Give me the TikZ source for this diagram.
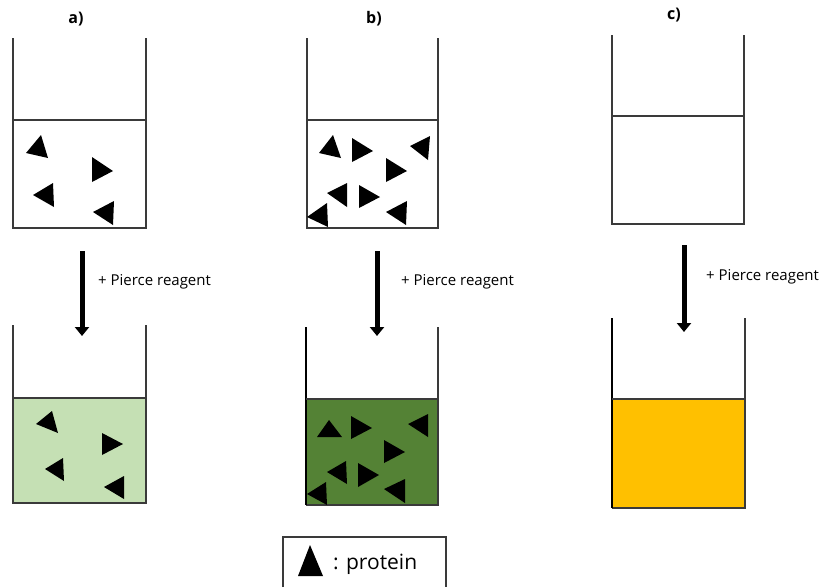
\documentclass[tikz,border=0pt]{standalone}
\usepackage{fontspec}
\setmainfont{Open Sans}
\usetikzlibrary{arrows.meta}
\definecolor{lightgreen}{HTML}{C5E0B4}
\definecolor{darkgreen}{HTML}{548235}
\definecolor{amber}{HTML}{FFC000}
\definecolor{wall}{HTML}{3A3A3A}
\newcommand\protri[3]{\fill[black] (#1)--(#2)--(#3)--cycle;}
\begin{document}
\begin{tikzpicture}[x=1pt,y=-1pt,
  wallline/.style={draw=wall,line width=1.1pt},
  bigarrow/.style={line width=5pt,-{Triangle[width=14pt,length=9pt]}},
  reagent/.style={anchor=west,inner sep=0pt,font=\fontsize{15}{18}\selectfont},
  panel/.style={inner sep=0pt,font=\bfseries\fontsize{16}{19}\selectfont}]
\useasboundingbox (0,0) rectangle (821,587);
% panel labels
\node[panel] (la) at (76,19) {a)};
\node[panel] (lb) at (374,19) {b)};
\node[panel] (lc) at (674,15) {c)};
% ---------- a top
\draw[wallline] (13,38)--(13,228)--(146,228)--(146,38);
\draw[wallline] (13,120)--(146,120);
\protri{26,153}{41,135}{48,158}
\protri{92,157}{92,182}{113,171}
\protri{33,195}{53,183}{54,207}
\protri{93,212}{114,201}{113,225}
% ---------- b top
\draw[wallline] (307,38)--(307,228)--(438,228)--(438,38);
\draw[wallline] (307,120)--(438,120);
\protri{319,153}{333,135}{341,158}
\protri{352,138}{352,162}{373,151}
\protri{410,146}{430,136}{428,160}
\protri{386,158}{386,182}{407,171}
\protri{327,193}{347,183}{347,207}
\protri{359,185}{359,208}{380,197}
\protri{386,212}{407,201}{406,225}
\protri{307,217}{327,203}{328,227}
% ---------- c top
\draw[wallline] (612,35)--(612,224)--(744,224)--(744,35);
\draw[wallline] (612,116)--(744,116);
% ---------- arrows
\coordinate (a1) at (82,251);
\coordinate (a2) at (82,336);
\coordinate (b1) at (377,251);
\coordinate (b2) at (377,336);
\coordinate (c1) at (684,245);
\coordinate (c2) at (684,332);
\draw[bigarrow] (a1) -- (a2);
\draw[bigarrow] (b1) -- (b2);
\draw[bigarrow] (c1) -- (c2);
\node[reagent] (ra) at (98,282) {+ Pierce reagent};
\node[reagent] (rb) at (401,282) {+ Pierce reagent};
\node[reagent] (rc) at (706,277) {+ Pierce reagent};
% ---------- a bottom
\fill[lightgreen] (13,398) rectangle (146,503);
\draw[wallline] (13,325)--(13,503)--(146,503)--(146,325);
\draw[wallline] (13,398)--(146,398);
\protri{36,424}{52,411}{58,433}
\protri{102,433}{102,455}{123,444}
\protri{45,469}{63,458}{64,481}
\protri{104,487}{124,476}{124,499}
% ---------- b bottom
\fill[darkgreen] (306,399) rectangle (438,505);
\draw[wallline] (438,327)--(438,505)--(306,505);
\draw[draw=black,line width=1.6pt] (306,327)--(306,505);
\draw[wallline] (306,399)--(438,399);
\protri{317,437}{329,420}{342,437}
\protri{351,416}{351,439}{372,428}
\protri{408,424}{428,414}{428,437}
\protri{384,440}{384,463}{405,452}
\protri{327,472}{346,461}{347,484}
\protri{358,463}{358,487}{379,475}
\protri{384,489}{405,479}{405,503}
\protri{307,494}{326,482}{327,505}
% ---------- c bottom
\fill[amber] (612,399) rectangle (745,508);
\draw[wallline] (745,318)--(745,508)--(612,508);
\draw[draw=black,line width=1.6pt] (612,318)--(612,508);
\draw[wallline] (612,399)--(745,399);
% ---------- legend
\draw[wallline] (283,587)--(283,537)--(446,537)--(446,587);
\protri{298,576}{310,545}{323,576}
\node[anchor=west,inner sep=0pt,font=\fontsize{21}{25}\selectfont] (leg) at (333,564) {: protein};
\end{tikzpicture}
\end{document}
